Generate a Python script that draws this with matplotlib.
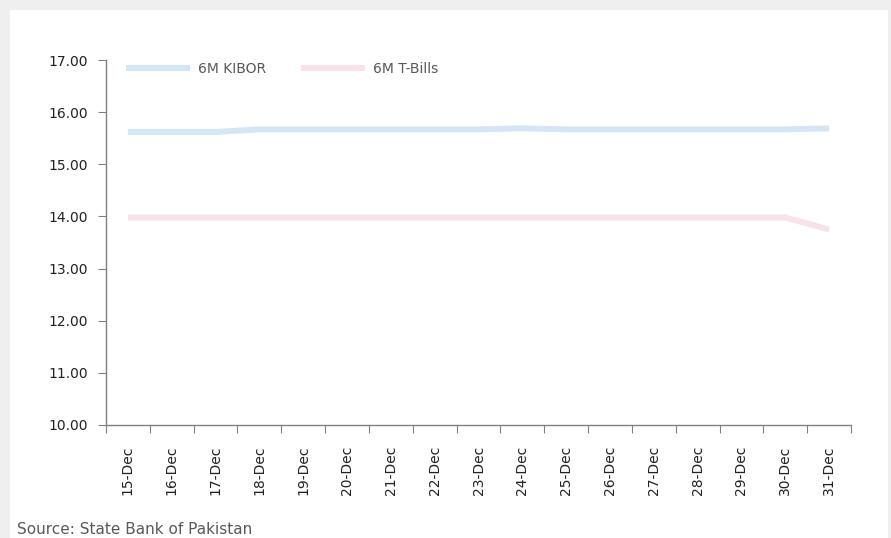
import matplotlib.pyplot as plt
from matplotlib.patches import Rectangle

dates = ['15-Dec', '16-Dec', '17-Dec', '18-Dec', '19-Dec', '20-Dec', '21-Dec', '22-Dec',
         '23-Dec', '24-Dec', '25-Dec', '26-Dec', '27-Dec', '28-Dec', '29-Dec', '30-Dec', '31-Dec']
kibor = [15.62, 15.62, 15.62, 15.67, 15.67, 15.67, 15.67, 15.67,
         15.67, 15.69, 15.67, 15.67, 15.67, 15.67, 15.67, 15.67, 15.69]
tbills = [13.98, 13.98, 13.98, 13.98, 13.98, 13.98, 13.98, 13.98,
          13.98, 13.98, 13.98, 13.98, 13.98, 13.98, 13.98, 13.98, 13.75]
yticks = [10, 11, 12, 13, 14, 15, 16, 17]

plt.rcParams['font.family'] = ['DejaVu Sans']

fig = plt.figure(figsize=(8.91, 5.38), dpi=100)
fig.patch.set_facecolor('#efefef')
# white card behind the chart
fig.patches.append(Rectangle((10 / 891, 0), 878 / 891, 528 / 538, transform=fig.transFigure,
                             facecolor='white', edgecolor='none', zorder=-1))

ax = fig.add_axes([106 / 891, 1 - 425 / 538, 745 / 891, 365 / 538])
ax.set_facecolor('none')
ax.set_zorder(2)

x = list(range(len(dates)))
ax.plot(x, kibor, color='#d4e6f5', lw=4.3, label='6M KIBOR', solid_capstyle='butt')
ax.plot(x, tbills, color='#f7e2e7', lw=4.3, label='6M T-Bills', solid_capstyle='butt')

ax.set_xlim(-0.5, len(dates) - 0.5)
ax.set_ylim(10, 17)
ax.set_yticks(yticks)
ax.set_yticklabels([f'{v:.2f}' for v in yticks], fontsize=10, color='#222222')

ax.set_xticks([i - 0.5 for i in range(len(dates) + 1)])
ax.set_xticklabels([])
ax.set_xticks(x, minor=True)
ax.set_xticklabels(dates, minor=True, rotation=90, fontsize=10, color='#222222')
ax.tick_params(axis='x', which='minor', length=0, pad=15)
ax.tick_params(axis='x', which='major', length=6, color='#808080', direction='out')
ax.tick_params(axis='y', length=6, color='#808080', pad=7)

for side in ['top', 'right']:
    ax.spines[side].set_visible(False)
for side in ['left', 'bottom']:
    ax.spines[side].set_color('#808080')
    ax.spines[side].set_linewidth(1)

leg = ax.legend(loc='upper left', bbox_to_anchor=(0.01, 1.03), ncol=2, frameon=False,
                fontsize=10, handlelength=4.6, handletextpad=0.6, columnspacing=2.5)
for t in leg.get_texts():
    t.set_color('#595959')

fig.text(17 / 891, 1 - 530 / 538, 'Source: State Bank of Pakistan', fontsize=11,
         color='#595959', va='center', ha='left')

fig.savefig('out.png', dpi=100, facecolor=fig.get_facecolor())
